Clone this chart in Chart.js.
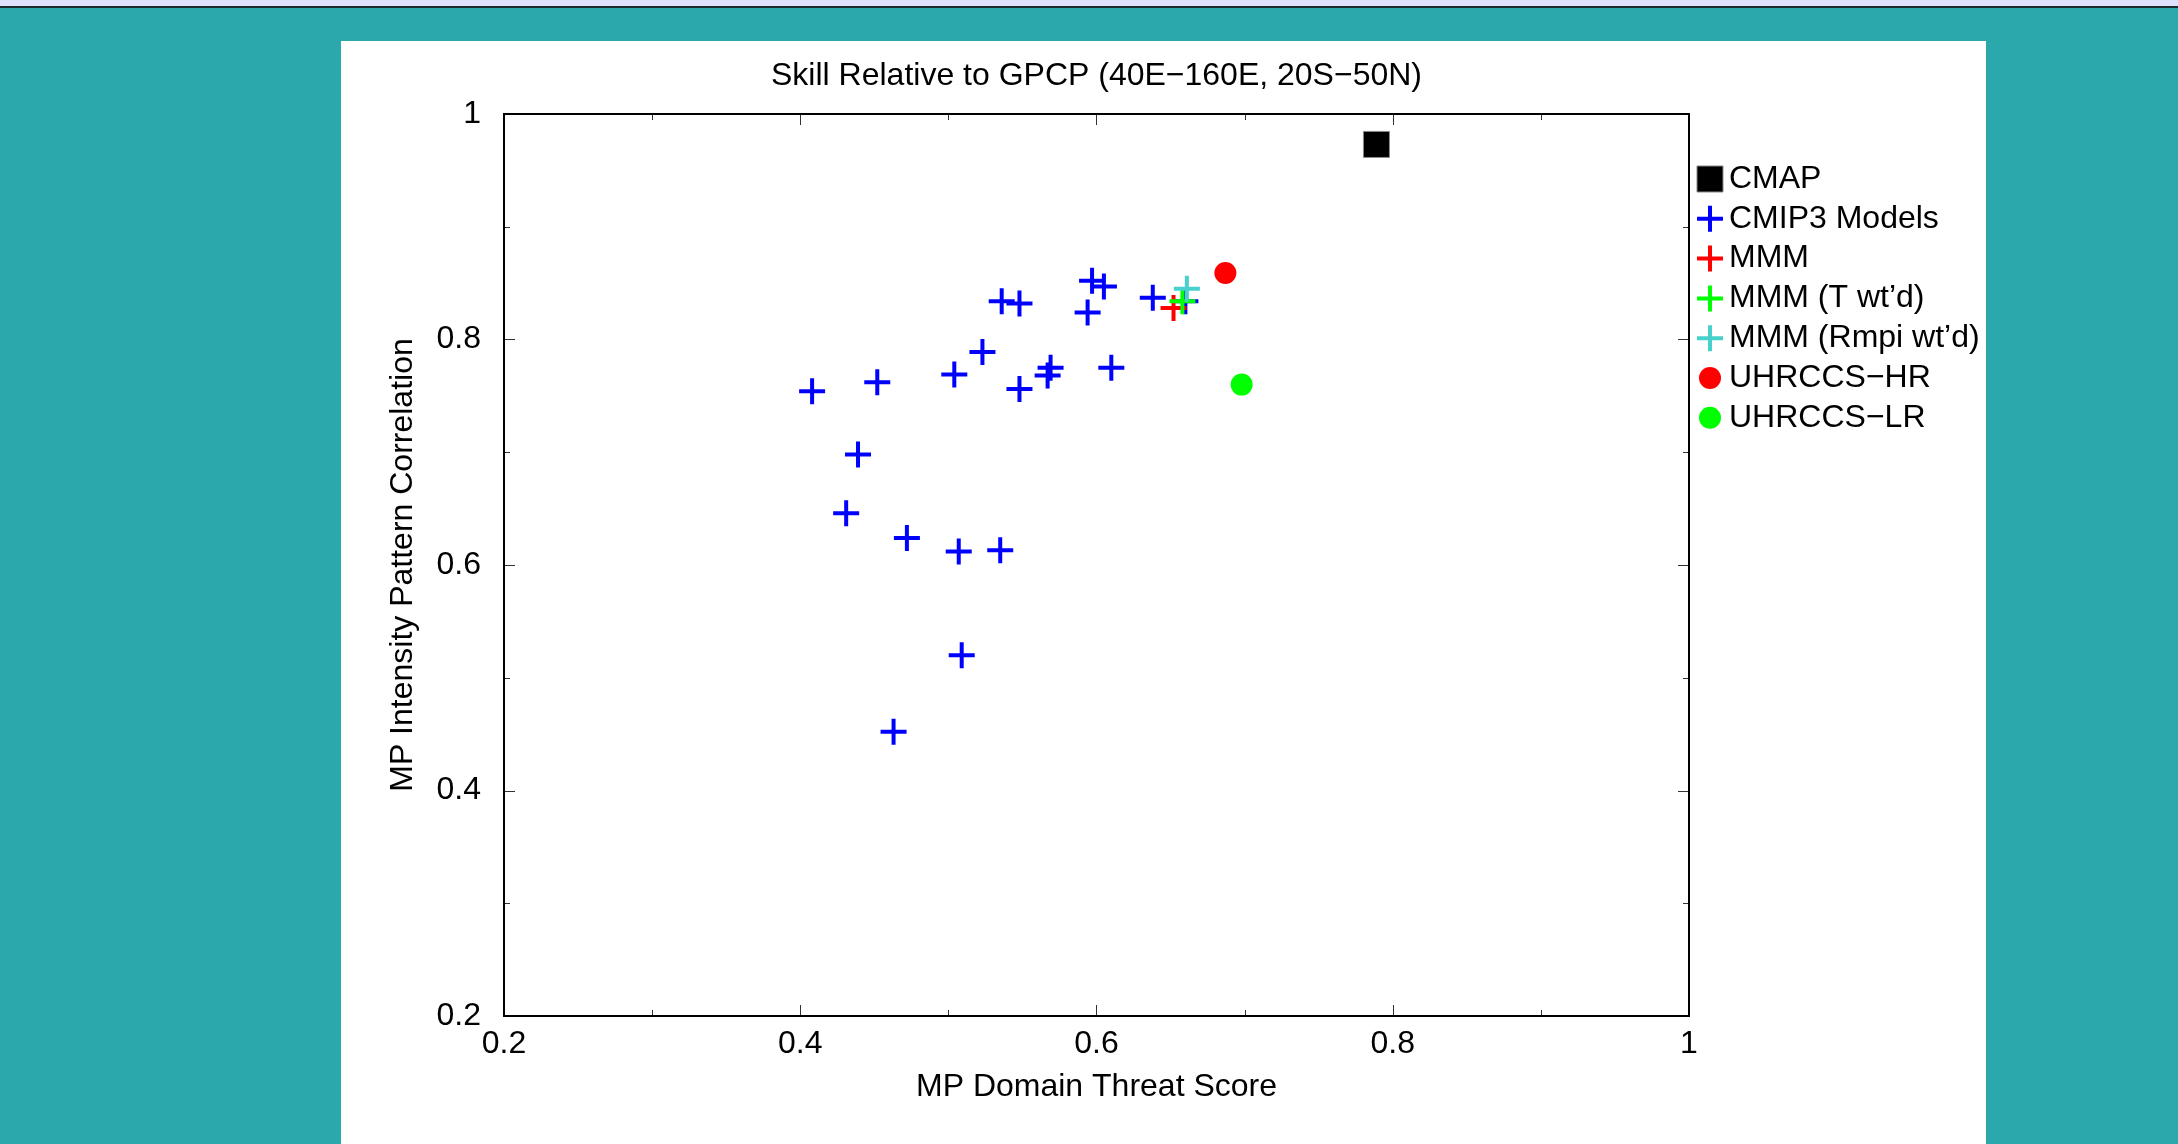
<!DOCTYPE html>
<html>
<head>
<meta charset="utf-8">
<script src="https://cdn.jsdelivr.net/npm/chart.js@4.4.0/dist/chart.umd.min.js"></script>
<style>
html,body{margin:0;padding:0;width:2178px;height:1144px;overflow:hidden;background:#2ba8ac;}
#strip{position:absolute;left:0;top:0;width:2178px;height:6px;background:#e0e0ff;}
#rule{position:absolute;left:0;top:6px;width:2178px;height:2px;background:#1c2a30;}
#panel{position:absolute;left:341px;top:41px;width:1645px;height:1103px;background:#ffffff;}
#c{display:block;}
</style>
</head>
<body>
<div id="strip"></div><div id="rule"></div>
<div id="panel"><canvas id="c" width="1645" height="1103" style="width:1645px;height:1103px"></canvas></div>
<script>
// ---------- data ----------
const chartTitle = 'Skill Relative to GPCP (40E\u2212160E, 20S\u221250N)';
const xAxisTitle = 'MP Domain Threat Score';
const yAxisTitle = 'MP Intensity Pattern Correlation';

const xTickValues = [0.2, 0.4, 0.6, 0.8, 1];
const xTickLabels = ['0.2', '0.4', '0.6', '0.8', '1'];
const yTickValues = [0.2, 0.4, 0.6, 0.8, 1];
const yTickLabels = ['0.2', '0.4', '0.6', '0.8', '1'];
const minorTickValues = [0.2, 0.3, 0.4, 0.5, 0.6, 0.7, 0.8, 0.9, 1.0];

const seriesNames = ['CMAP', 'CMIP3 Models', 'MMM', 'MMM (T wt\u2019d)', 'MMM (Rmpi wt\u2019d)', 'UHRCCS\u2212HR', 'UHRCCS\u2212LR'];

const cmapX = [0.789];
const cmapY = [0.973];

const cmip3X = [0.408, 0.452, 0.439, 0.431, 0.472, 0.463, 0.507, 0.535, 0.509, 0.504, 0.523,
                0.548, 0.569, 0.567, 0.610, 0.536, 0.548, 0.597, 0.605, 0.594, 0.638, 0.660];
const cmip3Y = [0.754, 0.762, 0.698, 0.646, 0.624, 0.452, 0.612, 0.613, 0.520, 0.769, 0.789,
                0.756, 0.775, 0.768, 0.775, 0.834, 0.832, 0.852, 0.847, 0.824, 0.837, 0.834];

const mmmX = [0.652];
const mmmY = [0.828];
const mmmTX = [0.658];
const mmmTY = [0.834];
const mmmRX = [0.661];
const mmmRY = [0.845];
const hrX = [0.687];
const hrY = [0.859];
const lrX = [0.698];
const lrY = [0.760];

// ---------- styles ----------
const FONT = "'Liberation Sans', Arial, Helvetica, sans-serif";
const styles = [
  {style: 'rect',   radius: 18.4, fill: '#000000', stroke: '#8a8a8a', width: 1, order: 0},
  {style: 'cross',  radius: 13,   fill: '#0000ff', stroke: '#0000ff', width: 4, order: 10},
  {style: 'cross',  radius: 13,   fill: '#ff0000', stroke: '#ff0000', width: 4, order: 5},
  {style: 'cross',  radius: 13,   fill: '#00ff00', stroke: '#00ff00', width: 4, order: 4},
  {style: 'cross',  radius: 13,   fill: '#48d1cc', stroke: '#48d1cc', width: 4, order: 3},
  {style: 'circle', radius: 11,   fill: '#ff0000', stroke: '#ff0000', width: 0, order: 2},
  {style: 'circle', radius: 11,   fill: '#00ff00', stroke: '#00ff00', width: 0, order: 1}
];
const seriesXs = [cmapX, cmip3X, mmmX, mmmTX, mmmRX, hrX, lrX];
const seriesYs = [cmapY, cmip3Y, mmmY, mmmTY, mmmRY, hrY, lrY];

const datasets = seriesNames.map((name, i) => {
  const s = styles[i];
  return {
    label: name,
    data: seriesXs[i].map((x, k) => ({x: x, y: seriesYs[i][k]})),
    showLine: false,
    order: s.order,
    pointStyle: s.style,
    pointRadius: s.radius,
    pointHoverRadius: s.radius,
    pointBorderWidth: s.width,
    pointHoverBorderWidth: s.width,
    pointBackgroundColor: s.fill,
    pointBorderColor: s.stroke,
    backgroundColor: s.fill,
    borderColor: s.stroke
  };
});

// frame + inward ticks on all four sides
const frameTicks = {
  id: 'frameTicks',
  afterDatasetsDraw(chart) {
    const {ctx, chartArea: a, scales: {x, y}} = chart;
    ctx.save();
    ctx.strokeStyle = '#333';
    ctx.lineWidth = 1;
    minorTickValues.forEach(v => {
      const major = xTickValues.some(t => Math.abs(t - v) < 1e-6);
      const len = major ? 11 : 6;
      const px = Math.round(x.getPixelForValue(v)) + 0.5;
      ctx.beginPath();
      ctx.moveTo(px, a.bottom); ctx.lineTo(px, a.bottom - len);
      ctx.moveTo(px, a.top); ctx.lineTo(px, a.top + len);
      ctx.stroke();
    });
    minorTickValues.forEach(v => {
      const major = yTickValues.some(t => Math.abs(t - v) < 1e-6);
      const len = major ? 11 : 6;
      const py = Math.round(y.getPixelForValue(v)) + 0.5;
      ctx.beginPath();
      ctx.moveTo(a.left, py); ctx.lineTo(a.left + len, py);
      ctx.moveTo(a.right, py); ctx.lineTo(a.right - len, py);
      ctx.stroke();
    });
    ctx.strokeStyle = '#000';
    ctx.lineWidth = 2;
    ctx.strokeRect(a.left, a.top, a.right - a.left, a.bottom - a.top);
    ctx.restore();
  }
};

// legend at the right of the plot
const sideLegend = {
  id: 'sideLegend',
  afterDraw(chart) {
    const {ctx, chartArea: a} = chart;
    const mx = a.right + 21, tx = a.right + 40, y0 = a.top + 65, step = 39.8;
    ctx.save();
    ctx.font = '32px ' + FONT;
    ctx.textBaseline = 'middle';
    ctx.textAlign = 'left';
    seriesNames.forEach((name, i) => {
      const s = styles[i];
      const yy = y0 + i * step;
      ctx.fillStyle = s.fill;
      ctx.strokeStyle = s.stroke;
      ctx.lineWidth = s.width;
      Chart.helpers.drawPoint(ctx, {pointStyle: s.style, radius: s.radius, rotation: 0, borderWidth: s.width}, mx, yy);
      ctx.fillStyle = '#000';
      ctx.fillText(name, tx, yy);
    });
    ctx.restore();
  }
};

new Chart(document.getElementById('c'), {
  type: 'scatter',
  data: {datasets: datasets},
  options: {
    responsive: false,
    animation: false,
    events: [],
    layout: {padding: {left: 0, right: 297, top: 0, bottom: 0}},
    plugins: {
      legend: {display: false},
      tooltip: {enabled: false},
      title: {
        display: true,
        text: chartTitle,
        fullSize: false,
        color: '#000',
        font: {family: FONT, size: 32, weight: 'normal'},
        padding: {top: 16, bottom: 18.6}
      }
    },
    scales: {
      x: {
        type: 'linear',
        min: 0.2, max: 1,
        afterBuildTicks: s => { s.ticks = xTickValues.map(v => ({value: v})); },
        afterFit: s => { s.height = 128; },
        grid: {display: false, drawTicks: false, tickLength: 0},
        border: {display: false},
        ticks: {
          callback: (v, i) => xTickLabels[i],
          color: '#000',
          font: {family: FONT, size: 32},
          padding: 9,
          maxRotation: 0,
          autoSkip: false
        },
        title: {
          display: true, text: xAxisTitle, color: '#000',
          font: {family: FONT, size: 32},
          padding: {top: 0, bottom: 38}
        }
      },
      y: {
        type: 'linear',
        min: 0.2, max: 1,
        afterBuildTicks: s => { s.ticks = yTickValues.map(v => ({value: v})); },
        afterFit: s => { s.width = 163; },
        grid: {display: false, drawTicks: false, tickLength: 0},
        border: {display: false},
        ticks: {
          callback: (v, i) => yTickLabels[i],
          color: '#000',
          font: {family: FONT, size: 32},
          padding: 23,
          autoSkip: false
        },
        title: {
          display: true, text: yAxisTitle, color: '#000',
          font: {family: FONT, size: 32},
          padding: {top: 43, bottom: 0}
        }
      }
    }
  },
  plugins: [frameTicks, sideLegend]
});
</script>
</body>
</html>
